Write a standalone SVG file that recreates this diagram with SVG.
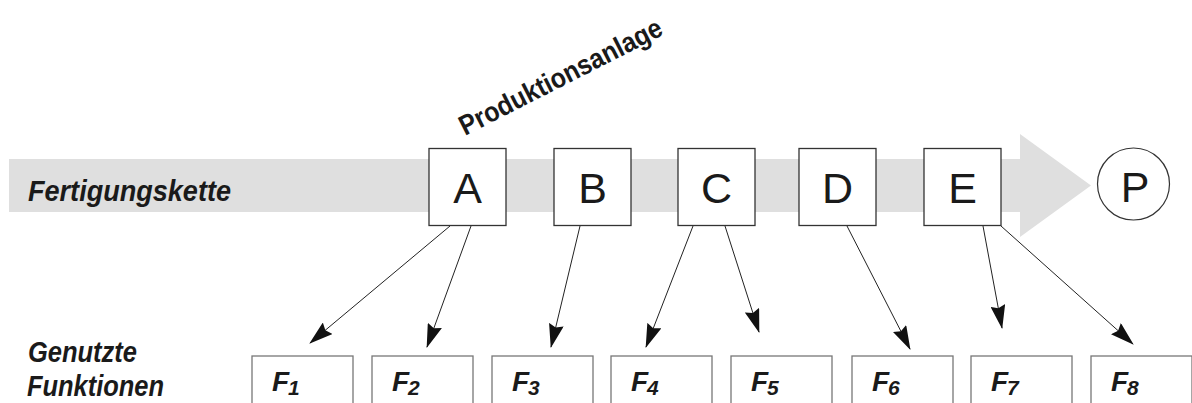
<svg xmlns="http://www.w3.org/2000/svg" width="1192" height="403" viewBox="0 0 1192 403">
<style>
.lbl{font-family:"Liberation Sans",Arial,sans-serif;font-weight:bold;font-style:italic;fill:#1a1a1a}
.box{fill:#fff;stroke:#333;stroke-width:1.3}
.fbox{fill:#fff;stroke:#777;stroke-width:1.3}
.big{font-family:"Liberation Sans",Arial,sans-serif;font-size:43px;fill:#1a1a1a;text-anchor:middle}
.f{font-family:"Liberation Sans",Arial,sans-serif;font-weight:bold;font-style:italic;font-size:28px;fill:#1a1a1a}
.sub{font-size:21px}
.con line{stroke:#222;stroke-width:1;marker-end:url(#ah)}
</style>
<defs>
<marker id="ah" viewBox="0 0 24 15" refX="23" refY="7.5" markerWidth="24" markerHeight="15" markerUnits="userSpaceOnUse" orient="auto">
<path d="M0,0 L24,7.5 L0,15 L3,7.5 z" fill="#111"/>
</marker>
</defs>
<rect width="1192" height="403" fill="#fff"/>
<g id="chain">
<polygon points="9,159 1020,159 1020,134 1091,185.5 1020,237 1020,212 9,212" fill="#dfdfdf"/>
<text class="lbl" x="28" y="201" font-size="30" textLength="203" lengthAdjust="spacingAndGlyphs">Fertigungskette</text>
</g>
<g id="title">
<text transform="translate(465,136) rotate(-27)" font-family="Liberation Sans,Arial,sans-serif" font-weight="bold" font-size="28" fill="#1a1a1a" textLength="224" lengthAdjust="spacingAndGlyphs">Produktionsanlage</text>
</g>
<g id="used-label">
<text class="lbl" x="28" y="362" font-size="29" textLength="109" lengthAdjust="spacingAndGlyphs">Genutzte</text>
<text class="lbl" x="27" y="396" font-size="29" textLength="137" lengthAdjust="spacingAndGlyphs">Funktionen</text>
</g>
<g id="nodeA"><rect class="box" x="429" y="148.5" width="77" height="77"/><text class="big" x="467.5" y="202.5">A</text></g>
<g id="nodeB"><rect class="box" x="554" y="148.5" width="77" height="77"/><text class="big" x="592.5" y="202.5">B</text></g>
<g id="nodeC"><rect class="box" x="678" y="148.5" width="77" height="77"/><text class="big" x="716.5" y="202.5">C</text></g>
<g id="nodeD"><rect class="box" x="799" y="148.5" width="77" height="77"/><text class="big" x="837.5" y="202.5">D</text></g>
<g id="nodeE"><rect class="box" x="924" y="148.5" width="77" height="77"/><text class="big" x="962.5" y="202.5">E</text></g>
<g id="nodeP"><ellipse cx="1133.5" cy="184" rx="36" ry="36" fill="#fff" stroke="#333" stroke-width="1.2"/><text class="big" x="1135" y="202">P</text></g>
<g id="F1"><rect class="fbox" x="252" y="356" width="101" height="60"/><text class="f" x="272" y="391">F<tspan class="sub" dx="-1" dy="4">1</tspan></text></g>
<g id="F2"><rect class="fbox" x="372" y="356" width="101" height="60"/><text class="f" x="392" y="391">F<tspan class="sub" dx="-1" dy="4">2</tspan></text></g>
<g id="F3"><rect class="fbox" x="492" y="356" width="101" height="60"/><text class="f" x="512" y="391">F<tspan class="sub" dx="-1" dy="4">3</tspan></text></g>
<g id="F4"><rect class="fbox" x="611" y="356" width="101" height="60"/><text class="f" x="631" y="391">F<tspan class="sub" dx="-1" dy="4">4</tspan></text></g>
<g id="F5"><rect class="fbox" x="731" y="356" width="101" height="60"/><text class="f" x="751" y="391">F<tspan class="sub" dx="-1" dy="4">5</tspan></text></g>
<g id="F6"><rect class="fbox" x="852" y="356" width="101" height="60"/><text class="f" x="872" y="391">F<tspan class="sub" dx="-1" dy="4">6</tspan></text></g>
<g id="F7"><rect class="fbox" x="971" y="356" width="101" height="60"/><text class="f" x="991" y="391">F<tspan class="sub" dx="-1" dy="4">7</tspan></text></g>
<g id="F8"><rect class="fbox" x="1091" y="356" width="101" height="60"/><text class="f" x="1111" y="391">F<tspan class="sub" dx="-1" dy="4">8</tspan></text></g>
<g id="connectors" class="con">
<line x1="450" y1="226" x2="310" y2="343"/>
<line x1="471" y1="226" x2="427" y2="347"/>
<line x1="580" y1="226" x2="551" y2="347"/>
<line x1="693" y1="226" x2="646" y2="347"/>
<line x1="725" y1="226" x2="759" y2="332"/>
<line x1="847" y1="226" x2="910" y2="349"/>
<line x1="983" y1="226" x2="1002" y2="328"/>
<line x1="1001" y1="226" x2="1133" y2="344"/>
</g>
</svg>
